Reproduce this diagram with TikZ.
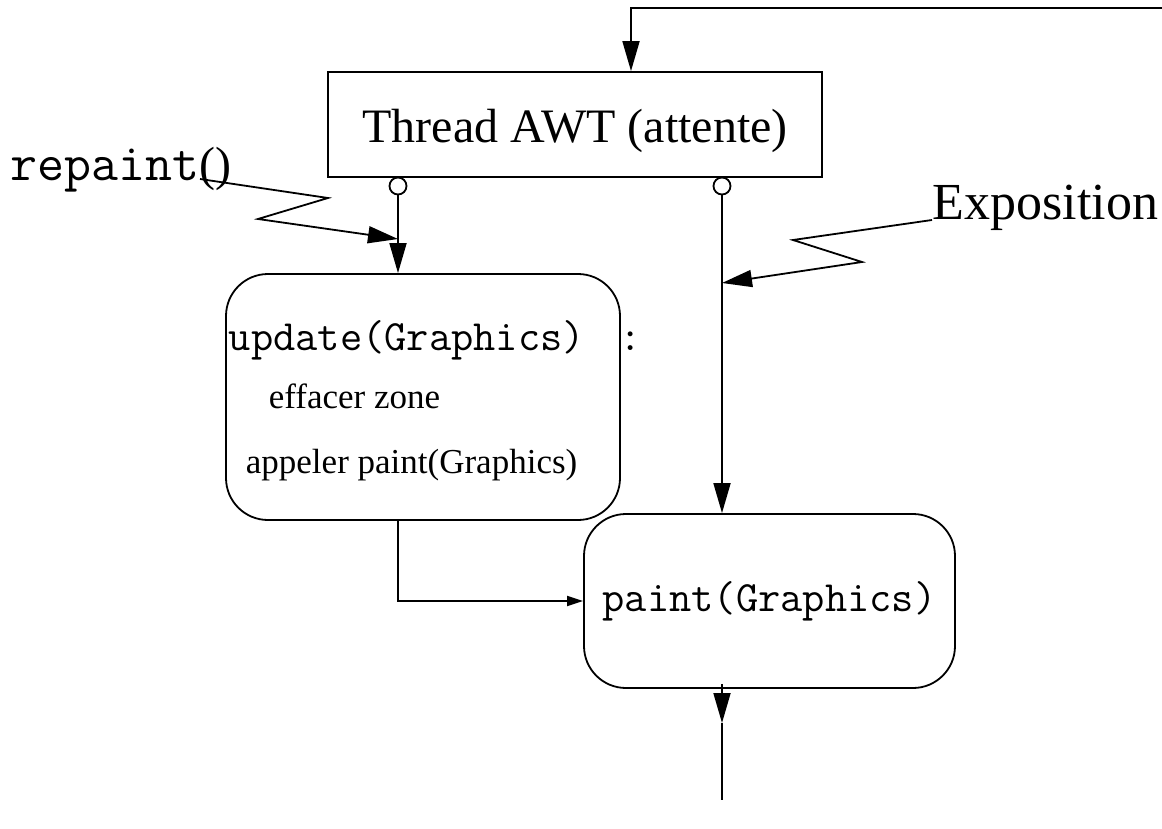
\documentclass[tikz,border=0pt]{standalone}
\usepackage{fontspec}
\setmainfont{Liberation Serif}
\usepackage{tikz}
\usetikzlibrary{arrows.meta,positioning,calc}

\begin{document}
\begin{tikzpicture}[
  x=0.5pt, y=-0.5pt,
  line width=0.9pt,
  box/.style={draw, minimum width=247pt, minimum height=52.5pt,
              text height=23pt, text depth=5.5pt,
              font=\fontsize{24}{28}\selectfont},
  rbox/.style={draw, rounded corners=21pt, inner sep=0pt},
  port/.style={draw, circle, minimum size=8.5pt, inner sep=0pt},
  txt/.style={inner sep=0pt, anchor=base west},
  arr/.style={-{Triangle[length=15pt, width=8.5pt]}},
  sarr/.style={-{Triangle[length=8pt, width=5pt]}}
]
\useasboundingbox (0,0) rectangle (1162,829);

% boxes
\node[box] (thread) at (575,124.5) {Thread AWT (attente)};
\node[port] (pl) at (398,186) {};
\node[port] (pr) at (722,186) {};
\node[rbox, minimum width=197pt, minimum height=123pt] (upd) at (423,397) {};
\node[rbox, minimum width=185.5pt, minimum height=87pt,
      font=\ttfamily\fontsize{21.6}{25}\selectfont] (paint) at (769.5,601)
      {paint(Graphics)};

% texts
\node[txt, font=\ttfamily\fontsize{21.6}{25}\selectfont] (updt) at (228,350) {update(Graphics)};
\node[txt, font=\ttfamily\fontsize{21.6}{25}\selectfont] (colon) at (619,350) {:};
\node[txt, font=\fontsize{17.5}{21}\selectfont] (eff) at (268,408) {effacer zone};
\node[txt, font=\fontsize{17.5}{21}\selectfont] (app) at (245,473) {appeler paint(Graphics)};
\node[txt, font=\fontsize{24}{28}\selectfont] (rp) at (10,180)
      {{\ttfamily\fontsize{26.2}{30}\selectfont repaint}()};
\node[txt, font=\fontsize{26}{30}\selectfont] (expo) at (932,220) {Exposition};

\coordinate (loop) at (1162,8);
\coordinate (rpfoot) at (200,179);
\coordinate (hitl) at (398,239);
\coordinate (hitr) at (722,283);
\coordinate (pmid) at (722,723);
\coordinate (pend) at (722,800);

% connectors
\draw[arr] (loop) -| ($(thread.north)+(56,0)$);
\draw[arr] (pl) -- (pl |- upd.north);
\draw[arr] (pr) -- (pr |- paint.north);
\draw[sarr] (pl |- upd.south) |- (paint.west);
\draw[arr] ($(pr |- paint.south)+(0,-5)$) -- (pmid);
\draw (pmid) -- (pend);
\draw[arr] (rpfoot) -- (328,198) -- (258,219) -- (hitl);
\draw[arr] (expo.base west) -- (793,240) -- (862,262) -- (hitr);
\end{tikzpicture}
\end{document}
